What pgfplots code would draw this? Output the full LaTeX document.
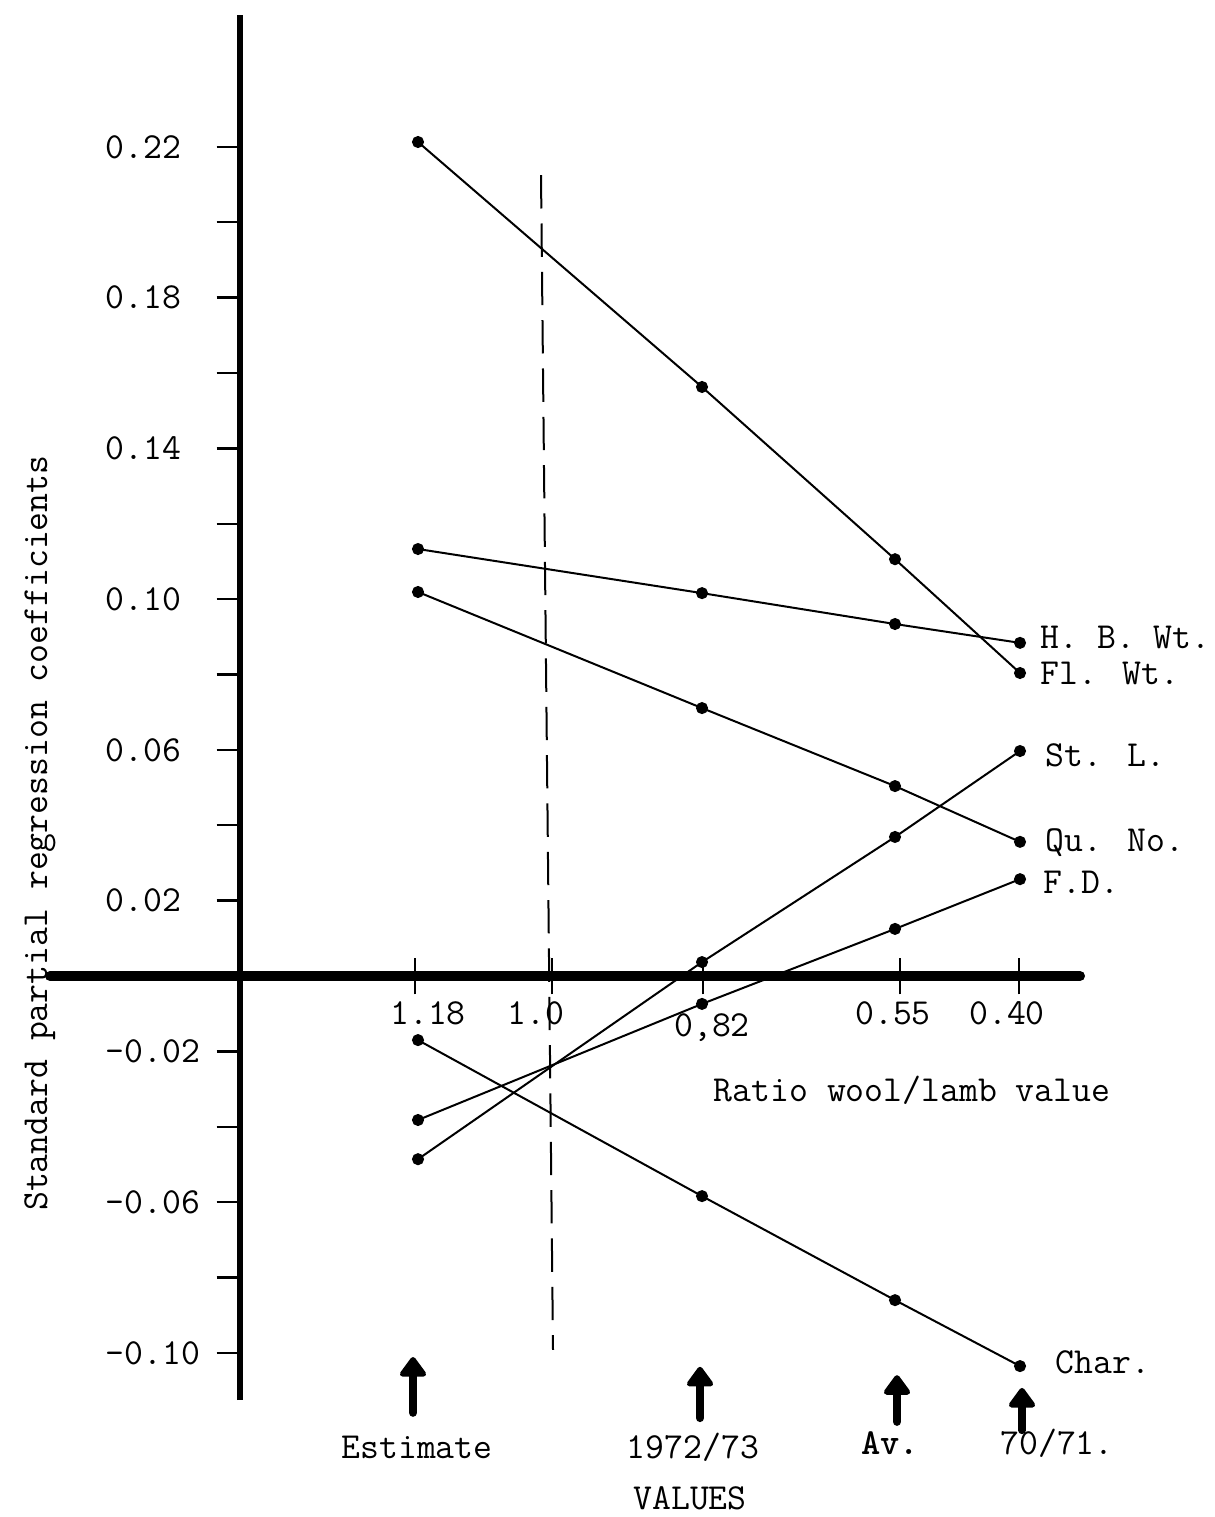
\documentclass[border=0pt]{standalone}
\usepackage{pgfplots}
\usepackage{pgfplotstable}
\pgfplotsset{compat=1.18}
\usetikzlibrary{arrows.meta}

\pgfplotsset{ser/.style={black, solid, line width=0.6pt, mark=*, mark size=1.5pt, mark options={solid, fill=black}}}

% columns: horizontal position of each set of values, then one column per trait
\pgfplotstableread{
x   fl      hb      qu      st       fd       ch
178 0.2213  0.1133  0.1019  -0.0486  -0.0382  -0.0170
462 0.1563  0.1016  0.0711   0.0037  -0.0074  -0.0584
655 0.1106  0.0934  0.0504   0.0369   0.0125  -0.0860
780 0.0804  0.0884  0.0356   0.0597   0.0257  -0.1035
}\coeffs

\begin{document}
\begin{tikzpicture}[font=\ttfamily\fontsize{11pt}{13pt}\selectfont]
\path[use as bounding box] (0,0) rectangle (364.2pt,-455.1pt);
\begin{axis}[
    at={(15pt,-420pt)}, anchor=south west,
    scale only axis, width=309pt, height=415.5pt,
    xmin=-190, xmax=840,
    ymin=-0.1125, ymax=0.2550,
    clip=false,
    axis lines=middle,
    x axis line style={-, line width=3pt, line cap=round},
    y axis line style={-, line width=2pt},
    xtick=\empty,
    extra x ticks={175,312,463,660,779},
    extra x tick labels={},
    extra x tick style={tick align=center, major tick length=11pt},
    ytick={-0.10,-0.06,-0.02,0.02,0.06,0.10,0.14,0.18,0.22},
    minor ytick={-0.08,-0.04,0.04,0.08,0.12,0.16,0.20},
    yticklabels={},
    tick align=outside,
    major tick length=7pt, minor tick length=7pt,
    tick style={line width=0.7pt, black},
]
\addplot[ser] table[x=x, y=fl] {\coeffs};
\addplot[ser] table[x=x, y=hb] {\coeffs};
\addplot[ser] table[x=x, y=qu] {\coeffs};
\addplot[ser] table[x=x, y=st] {\coeffs};
\addplot[ser] table[x=x, y=fd] {\coeffs};
\addplot[ser] table[x=x, y=ch] {\coeffs};

% dashed line at ratio 1.0
\draw[line width=0.6pt, dash pattern=on 10pt off 4.5pt] (301,0.2125) -- (313,-0.0992);

% y tick labels
\foreach \v/\t in {0.22/0.22, 0.18/0.18, 0.14/0.14, 0.10/0.10, 0.06/0.06, 0.02/0.02, -0.02/-0.02, -0.06/-0.06, -0.10/-0.10}
  {\edef\tmp{\noexpand\node[anchor=west, inner sep=0] at (-135,\v) {\t};}\tmp}

% x tick labels
\node[inner sep=0] at (188,-0.0098) {1.18};
\node[inner sep=0] at (296,-0.0098) {1.0};
\node[inner sep=0] at (472,-0.0138) {0,82};
\node[inner sep=0] at (653,-0.0098) {0.55};
\node[inner sep=0] at (767,-0.0098) {0.40};
\node[inner sep=0] at (672,-0.0302) {Ratio wool/lamb value};

% series labels
\node[anchor=west, inner sep=0] at (800,0.0899) {H. B. Wt.};
\node[anchor=west, inner sep=0] at (800,0.0804) {Fl. Wt.};
\node[anchor=west, inner sep=0] at (805,0.0586) {St. L.};
\node[anchor=west, inner sep=0] at (805,0.0353) {Qu. No.};
\node[anchor=west, inner sep=0] at (803,0.0249) {F.D.};
\node[anchor=west, inner sep=0] at (815,-0.1024) {Char.};

% value arrows
\begin{scope}[line width=2.4pt, line cap=round, -{Triangle[length=6.5pt, width=9pt, round]}]
\draw (173,-0.1159) -- (173,-0.1011);
\draw (460,-0.1173) -- (460,-0.1037);
\draw (657,-0.1183) -- (657,-0.1059);
\draw (782,-0.1205) -- (782,-0.1093);
\end{scope}
\node[inner sep=0] at (177,-0.1250) {Estimate};
\node[inner sep=0] at (453,-0.1250) {1972/73};
\node[inner sep=0] at (650,-0.1239) {\bfseries Av.};
\node[inner sep=0] at (817,-0.1239) {70/71.};
\node[inner sep=0] at (450,-0.1385) {VALUES};

% y axis title
\node[rotate=90, inner sep=0] at (-200,0.0379) {Standard partial regression coefficients};
\end{axis}
\end{tikzpicture}
\end{document}
